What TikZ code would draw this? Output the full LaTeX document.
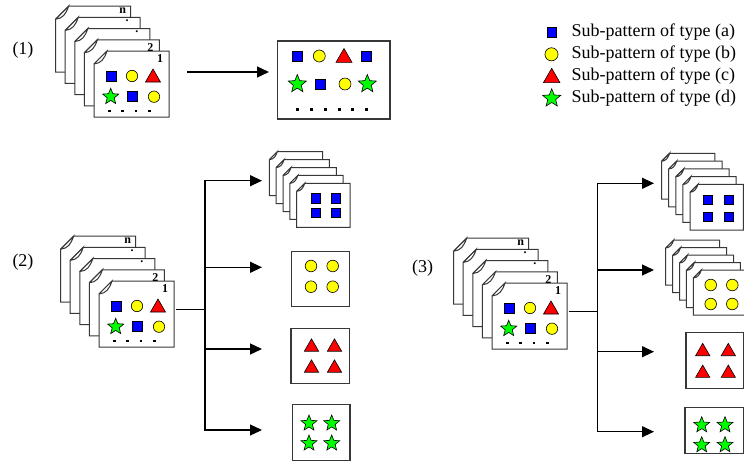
\documentclass[tikz,border=0pt]{standalone}
\usepackage{fontspec}
\setmainfont{Liberation Serif}
\usetikzlibrary{arrows.meta}

\definecolor{pblue}{RGB}{0,0,255}
\definecolor{pyellow}{RGB}{255,255,0}
\definecolor{pred}{RGB}{255,0,0}
\definecolor{pgreen}{RGB}{0,255,0}
\definecolor{edgegray}{RGB}{55,55,55}

\tikzset{
  glyph/.style={draw=black, line width=0.6pt, line join=miter},
  sheet/.style={draw=edgegray, line width=1pt, fill=white},
  frame/.style={draw=edgegray, line width=1.1pt, fill=white, inner sep=0pt, outer sep=0pt, anchor=north west},
  link/.style={draw=black, line width=1.3pt, line cap=rect},
  arrow/.style={draw=black, line width=1.3pt, -{Triangle[length=12pt,width=11pt]}},
  tag/.style={font=\fontsize{18}{18}\selectfont, inner sep=0pt},
  legend/.style={font=\fontsize{18}{18}\selectfont, inner sep=0pt, anchor=west},
  pageno/.style={font=\bfseries\fontsize{12}{12}\selectfont, inner sep=0pt},
  sqa/.pic={\filldraw[glyph,fill=pblue] (-5,-5) rectangle (5,5);},
  cib/.pic={\filldraw[glyph,fill=pyellow] (0,0) circle[radius=5.7];},
  trc/.pic={\filldraw[glyph,fill=pred] (-7.5,6) -- (0,-7) -- (7.5,6) -- cycle;},
  std/.pic={\filldraw[glyph,fill=pgreen] (270:8.5) -- (306:3.7) -- (342:8.5) -- (18:3.7)
      -- (54:8.5) -- (90:3.7) -- (126:8.5) -- (162:3.7) -- (198:8.5) -- (234:3.7) -- cycle;},
  tinydot/.pic={\fill (-1.3,-1.3) rectangle (1.3,1.3);},
}

% one sheet with a folded top-left corner: x y w h fold
\newcommand\sheetat[5]{%
  \filldraw[sheet] (#1+#5,#2) -- (#1+#3,#2) -- (#1+#3,#2+#4) -- (#1,#2+#4) -- (#1,#2+#5) -- cycle;
  \draw[sheet] (#1,#2+#5) -- (#1+#5,#2)
     .. controls (#1+0.8*#5,#2+0.6*#5) and (#1+0.55*#5,#2+0.95*#5) .. (#1,#2+#5);
}
% five sheets, back to front: front x y w h fold dx dy
\newcommand\sheetstack[7]{%
  \foreach \k in {4,3,2,1,0}{\sheetat{#1-\k*#6}{#2-\k*#7}{#3}{#4}{#5}}%
}
% numbered stack of patterns: front x y, name prefix
\newcommand\bigstack[3]{%
  \sheetstack{#1}{#2}{75}{66}{13}{9.6}{11.2}
  \node[pageno] (#3-n) at (#1-38.4+67,#2-44.8+4.7) {n};
  \node[pageno] (#3-d1) at (#1-28.8+62,#2-33.6+3.5) {.};
  \node[pageno] (#3-d2) at (#1-19.2+62,#2-22.4+3.5) {.};
  \node[pageno] (#3-2) at (#1-9.6+66,#2-11.2+7.5) {2};
  \node[pageno] (#3-1) at (#1+66,#2+7.5) {1};
  \pic at (#1+17.7,#2+25) {sqa};
  \pic at (#1+38,#2+25) {cib};
  \pic at (#1+59,#2+25) {trc};
  \pic at (#1+16.7,#2+45.7) {std};
  \pic at (#1+38.7,#2+45.7) {sqa};
  \pic at (#1+60,#2+45.7) {cib};
  \foreach \u in {15.3,28.7,42,55.3}{\pic at (#1+\u,#2+60) {tinydot};}
}
% four glyphs in a 2x2 grid: pic, scale, x1 x2 y1 y2
\newcommand\glyphgrid[6]{%
  \pic[scale=#2] at (#3,#5) {#1}; \pic[scale=#2] at (#4,#5) {#1};
  \pic[scale=#2] at (#3,#6) {#1}; \pic[scale=#2] at (#4,#6) {#1};
}

\begin{document}
\begin{tikzpicture}[x=1pt,y=-1pt]
\useasboundingbox (0,0) rectangle (744,463);
\clip (0,0) rectangle (744,463);

% legend
\pic[scale=0.95] at (551.7,32.3) {sqa};
\pic[scale=1.15] at (551.5,54.3) {cib};
\pic[scale=1.1] at (551.7,76) {trc};
\pic[scale=1.12] at (551.7,98.3) {std};
\node[legend] (leg-a) at (571.5,32.3) {Sub-pattern of type (a)};
\node[legend] (leg-b) at (571.5,54.3) {Sub-pattern of type (b)};
\node[legend] (leg-c) at (571.5,76) {Sub-pattern of type (c)};
\node[legend] (leg-d) at (571.5,98.3) {Sub-pattern of type (d)};

% (1) all sub-patterns collected into one pattern
\node[tag] (lab1) at (23,50) {(1)};
\bigstack{94}{51}{s1}
\coordinate (a1s) at (187,72);
\coordinate (a1e) at (269,72);
\draw[arrow] (a1s) -- (a1e);
\node[frame, minimum width=112.5pt, minimum height=78pt] (b1) at (277.5,41) {};
\pic at (297.7,56) {sqa};
\pic[scale=1.05] at (319.3,56) {cib};
\pic[scale=1.07] at (344,56) {trc};
\pic at (366.7,56) {sqa};
\pic[scale=1.12] at (297.3,84) {std};
\pic at (320.7,84) {sqa};
\pic[scale=1.05] at (345,84) {cib};
\pic[scale=1.12] at (367.3,84) {std};
\foreach \u in {297.7,311.7,325.7,339.3,352.7,366.7}{\pic at (\u,109.3) {tinydot};}

% (2) split by type, only type (a) kept as a stack
\node[tag] (lab2) at (23,262) {(2)};
\bigstack{99}{281}{s2}
\coordinate (o2) at (177,309.3);
\coordinate (j2) at (205,309.3);
\coordinate (j2a) at (205,180.7);
\coordinate (j2b) at (205,267.3);
\coordinate (j2c) at (205,349);
\coordinate (j2d) at (205,430);
\coordinate (e2a) at (262,180.7);
\coordinate (e2b) at (262,267.3);
\coordinate (e2c) at (262,349);
\coordinate (e2d) at (262,430);
\draw[link] (o2) -- (j2);
\draw[link] (j2a) -- (j2d);
\draw[arrow] (j2a) -- (e2a);
\draw[arrow] (j2b) -- (e2b);
\draw[arrow] (j2c) -- (e2c);
\draw[arrow] (j2d) -- (e2d);
\sheetstack{296.7}{183.3}{53.3}{44}{8}{6.85}{7.9}
\glyphgrid{sqa}{0.93}{315.7}{336}{198.3}{212.7}
\node[frame, minimum width=57.6pt, minimum height=55pt] (b2b) at (291.7,251.7) {};
\glyphgrid{cib}{1.02}{311}{332.7}{266}{286.7}
\node[frame, minimum width=58.3pt, minimum height=55pt] (b2c) at (291,328.3) {};
\glyphgrid{trc}{0.95}{311.5}{334.5}{345.5}{366.5}
\node[frame, minimum width=57.7pt, minimum height=56.4pt] (b2d) at (292.3,404.3) {};
\glyphgrid{std}{0.98}{309}{331.7}{423.3}{443.3}

% (3) split by type, types (a) and (b) kept as stacks
\node[tag] (lab3) at (422.5,268) {(3)};
\bigstack{492}{283}{s3}
\coordinate (o3) at (570,311.7);
\coordinate (j3) at (597.7,311.7);
\coordinate (j3a) at (597.7,183.3);
\coordinate (j3b) at (597.7,270);
\coordinate (j3c) at (597.7,351.7);
\coordinate (j3d) at (597.7,431.7);
\coordinate (e3a) at (654,183.3);
\coordinate (e3b) at (654,270);
\coordinate (e3c) at (654,351.7);
\coordinate (e3d) at (654,431.7);
\draw[link] (o3) -- (j3);
\draw[link] (j3a) -- (j3d);
\draw[arrow] (j3a) -- (e3a);
\draw[arrow] (j3b) -- (e3b);
\draw[arrow] (j3c) -- (e3c);
\draw[arrow] (j3d) -- (e3d);
\sheetstack{690}{184.3}{53.3}{45.7}{8}{7.1}{7.75}
\glyphgrid{sqa}{0.93}{707.7}{729}{200}{216.7}
\sheetstack{693.3}{270}{54}{45}{8}{6.9}{7.5}
\glyphgrid{cib}{1.02}{710.7}{732.3}{285}{304}
\node[frame, minimum width=57.3pt, minimum height=55.6pt] (b3c) at (686,332.7) {};
\glyphgrid{trc}{0.95}{702.7}{728.3}{350}{371.7}
\node[frame, minimum width=58.3pt, minimum height=46pt] (b3d) at (685,407.3) {};
\glyphgrid{std}{0.98}{701.7}{725}{425}{445}
\end{tikzpicture}
\end{document}
